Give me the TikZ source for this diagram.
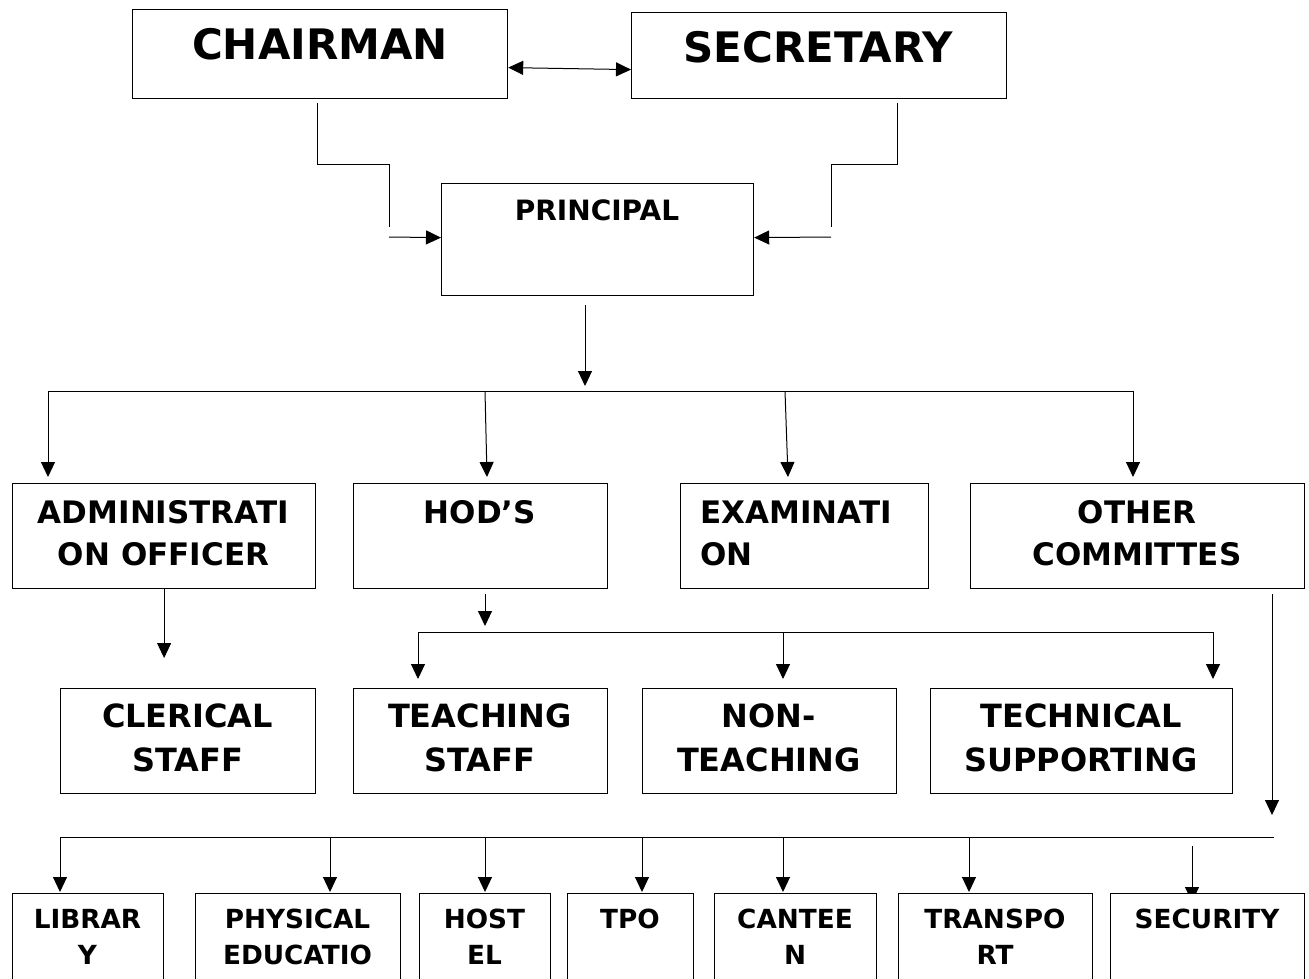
\documentclass[tikz,border=0pt]{standalone}
\usepackage{fontspec}
\setmainfont{DejaVu Sans}
\usetikzlibrary{arrows.meta}
\tikzset{
  box/.style={draw, line width=1.2pt, rectangle, inner sep=0pt, fill=white},
  conn/.style={line width=1pt},
  arr/.style={conn, -{Triangle[length=15pt,width=14pt]}},
  darr/.style={conn, {Triangle[length=15pt,width=14pt]}-{Triangle[length=15pt,width=14pt]}},
  lbl/.style={anchor=base, inner sep=0pt, font=\bfseries},
  big/.style={lbl, font=\fontsize{42}{50}\selectfont\bfseries},
  mid/.style={lbl, font=\fontsize{28}{34}\selectfont\bfseries},
  rowb/.style={lbl, font=\fontsize{31}{38}\selectfont\bfseries},
  rowc/.style={lbl, font=\fontsize{32}{38}\selectfont\bfseries},
  rowd/.style={lbl, font=\fontsize{26.3}{32}\selectfont\bfseries}
}
\newcommand\mybox[5]{\node[box, anchor=north west, minimum width={(#4-#2)*1pt}, minimum height={(#5-#3)*1pt}] (#1) at (#2,#3) {};}
\begin{document}
\begin{tikzpicture}[x=1pt,y=-1pt]
\useasboundingbox (0,0) rectangle (1309,978);
% connector coordinates
\coordinate (c1) at (317,103);
\coordinate (c2) at (389,227);
\coordinate (c3) at (389,237);
\coordinate (s1) at (897,103);
\coordinate (s2) at (831,227);
\coordinate (s3) at (831,237);
\coordinate (p1) at (585,305);
\coordinate (p2) at (585,386);
\coordinate (bA) at (48,391);
\coordinate (bB) at (1133,391);
\coordinate (tA) at (48,477);
\coordinate (hA) at (485,391);
\coordinate (tB) at (487,477);
\coordinate (hB) at (785,391);
\coordinate (tC) at (788,477);
\coordinate (tD) at (1133,477);
\coordinate (a2) at (163.5,658);
\coordinate (h1) at (485,594);
\coordinate (h2) at (485,626);
\coordinate (gA) at (418,632);
\coordinate (gB) at (1213,632);
\coordinate (gC) at (783,632);
\coordinate (u1) at (418,679);
\coordinate (u2) at (783,679);
\coordinate (u3) at (1213,679);
\coordinate (o1) at (1272,594);
\coordinate (o2) at (1272,815);
\coordinate (kA) at (60,837);
\coordinate (kB) at (1274,837);
\foreach \n/\x in {1/60,2/330,3/485,4/642,5/783,6/969}{
  \coordinate (k\n) at (\x,837);
  \coordinate (q\n) at (\x,892);
}
\coordinate (k7) at (1192,846);
\coordinate (q7) at (1192,902);

% connectors
\draw[conn] (c1) -- ++(0,61) -| (c2);
\draw[conn] (s1) -- ++(0,61) -| (s2);
\draw[conn] (bA) -- (bB);
\draw[arr] (p1) -- (p2);
\draw[arr] (bA) -- (tA);
\draw[arr] (hA) -- (tB);
\draw[arr] (hB) -- (tC);
\draw[arr] (bB) -- (tD);
\draw[arr] (h1) -- (h2);
\draw[conn] (gA) -- (gB);
\draw[arr] (gA) -- (u1);
\draw[arr] (gC) -- (u2);
\draw[arr] (gB) -- (u3);
\draw[arr] (o1) -- (o2);
\draw[conn] (kA) -- (kB);
\foreach \n in {1,...,7}{\draw[arr] (k\n) -- (q\n);}

% boxes
\mybox{chair}{132}{9}{507}{98}
\mybox{secr}{631}{12}{1006}{98}
\mybox{princ}{441}{183}{753}{295}
\mybox{admin}{12}{483}{315}{588}
\mybox{hod}{353}{483}{607}{588}
\mybox{exam}{680}{483}{928}{588}
\mybox{other}{970}{483}{1304}{588}
\mybox{cler}{60}{688}{315}{793}
\mybox{teach}{353}{688}{607}{793}
\mybox{nont}{642}{688}{896}{793}
\mybox{tech}{930}{688}{1232}{793}
\mybox{lib}{12}{893}{163}{1000}
\mybox{phys}{195}{893}{400}{1000}
\mybox{host}{419}{893}{550}{1000}
\mybox{tpo}{567}{893}{693}{1000}
\mybox{cant}{714}{893}{876}{1000}
\mybox{trans}{898}{893}{1092}{1000}
\mybox{secu}{1110}{893}{1304}{1000}

% connectors touching boxes
\draw[darr] ([yshift=-13.5pt]chair.east) -- ([yshift=-14pt]secr.west);
\draw[arr] (c3) -- ([yshift=2pt]princ.west);
\draw[arr] (s3) -- ([yshift=2pt]princ.east);
\draw[arr] (admin.south) -- (admin.south |- a2);

% labels
\node[big] (tChair) at (320,59) {CHAIRMAN};
\node[big] (tSecr) at (818,62) {SECRETARY};
\node[mid] (tPrinc) at (597,220) {PRINCIPAL};
\node[rowb] (tAdm1) at (163.5,523) {ADMINISTRATI};
\node[rowb] (tAdm2) at (163.5,565) {ON OFFICER};
\node[rowb] (tHod) at (480,523) {HOD’S};
\node[rowb, anchor=base west] (tExa1) at (700,523) {EXAMINATI};
\node[rowb, anchor=base west] (tExa2) at (700,565) {ON};
\node[rowb] (tOth1) at (1137,523) {OTHER};
\node[rowb] (tOth2) at (1137,565) {COMMITTES};
\node[rowc] (tCle1) at (187.5,727) {CLERICAL};
\node[rowc] (tCle2) at (187.5,771) {STAFF};
\node[rowc] (tTea1) at (480,727) {TEACHING};
\node[rowc] (tTea2) at (480,771) {STAFF};
\node[rowc] (tNon1) at (769,727) {NON-};
\node[rowc] (tNon2) at (769,771) {TEACHING};
\node[rowc] (tTec1) at (1081,727) {TECHNICAL};
\node[rowc] (tTec2) at (1081,771) {SUPPORTING};
\node[rowd] (tLib1) at (87.5,928) {LIBRAR};
\node[rowd] (tLib2) at (87.5,964) {Y};
\node[rowd] (tPhy1) at (297.5,928) {PHYSICAL};
\node[rowd] (tPhy2) at (297.5,964) {EDUCATIO};
\node[rowd] (tHos1) at (484.5,928) {HOST};
\node[rowd] (tHos2) at (484.5,964) {EL};
\node[rowd] (tTpo) at (630,928) {TPO};
\node[rowd] (tCan1) at (795,928) {CANTEE};
\node[rowd] (tCan2) at (795,964) {N};
\node[rowd] (tTra1) at (995,928) {TRANSPO};
\node[rowd] (tTra2) at (995,964) {RT};
\node[rowd] (tSec) at (1207,928) {SECURITY};
\end{tikzpicture}
\end{document}
